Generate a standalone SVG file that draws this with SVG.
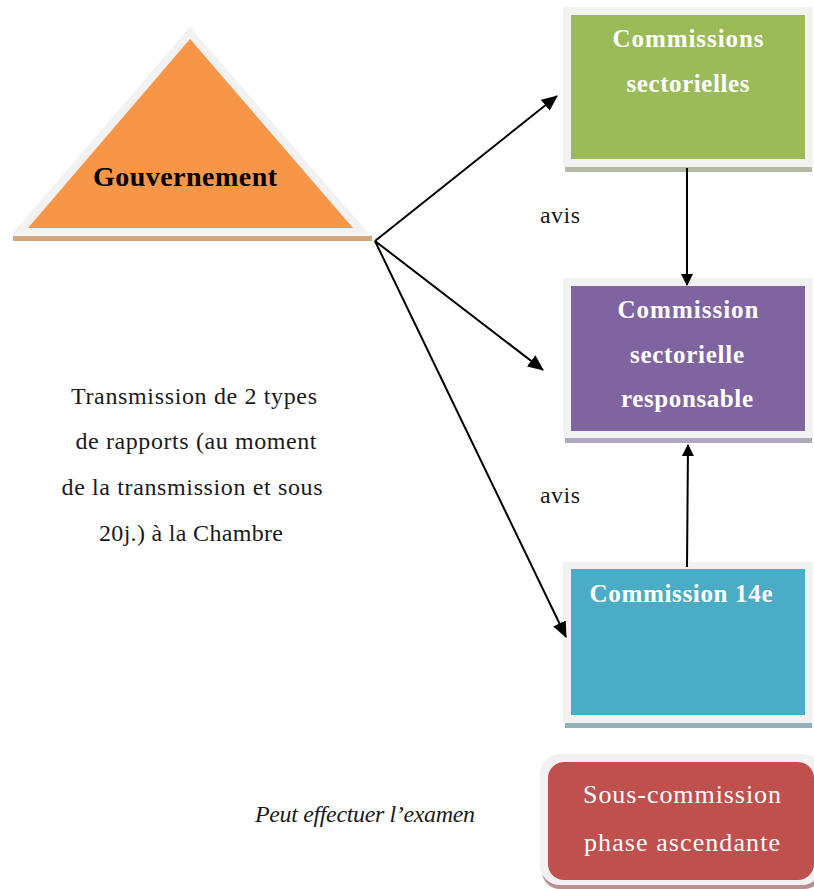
<svg xmlns="http://www.w3.org/2000/svg" width="814" height="889" viewBox="0 0 814 889">
<defs>
<style>
.w{fill:#ffffff;font-weight:bold;font-size:25px;text-anchor:middle;}
.b{fill:#1a1a1a;font-size:24px;text-anchor:middle;}
.frame{fill:#f2f2f2;}
.con{stroke:#000;stroke-width:2;fill:none;}
</style>
<marker id="ah" viewBox="0 0 12 12" refX="11" refY="6" markerWidth="12" markerHeight="12" markerUnits="userSpaceOnUse" orient="auto">
<path d="M0,0 L12,6 L0,12 Z" fill="#000"/>
</marker>
<marker id="ahb" viewBox="0 0 16 14" refX="15" refY="7" markerWidth="16" markerHeight="14" markerUnits="userSpaceOnUse" orient="auto">
<path d="M0,0 L16,7 L0,14 Z" fill="#000"/>
</marker>
</defs>
<rect width="814" height="889" fill="#ffffff"/>

<g font-family="Liberation Serif">
<g id="gouvernement">
<rect x="13" y="236" width="359" height="5" fill="#d2a57f"/>
<polygon points="190,27 370,235 11,235" class="frame"/>
<polygon points="190,39 353,228 28,228" fill="#f79646"/>
<text font-family="Liberation Serif" x="185" y="186" font-size="28" font-weight="bold" text-anchor="middle" fill="#000" textLength="184" lengthAdjust="spacing">Gouvernement</text>
</g>

<g id="commissions-sectorielles">
<rect x="565" y="167" width="247" height="5" fill="#b4bca6"/>
<rect x="563" y="7" width="250" height="160" class="frame"/>
<rect x="571" y="15" width="234" height="144" fill="#9bbb59"/>
<text font-family="Liberation Serif" class="w" x="688" y="47" textLength="151" lengthAdjust="spacing">Commissions</text>
<text font-family="Liberation Serif" class="w" x="688" y="92" textLength="123" lengthAdjust="spacing">sectorielles</text>
</g>

<g id="commission-responsable">
<rect x="565" y="438" width="247" height="5" fill="#b0a8bc"/>
<rect x="563" y="278" width="250" height="160" class="frame"/>
<rect x="571" y="286" width="234" height="145" fill="#8064a2"/>
<text font-family="Liberation Serif" class="w" x="688" y="318" textLength="141" lengthAdjust="spacing">Commission</text>
<text font-family="Liberation Serif" class="w" x="687" y="363" textLength="114" lengthAdjust="spacing">sectorielle</text>
<text font-family="Liberation Serif" class="w" x="687" y="407" textLength="132" lengthAdjust="spacing">responsable</text>
</g>

<g id="commission-14e">
<rect x="565" y="723" width="247" height="5" fill="#90b0bc"/>
<rect x="563" y="562" width="250" height="161" class="frame"/>
<rect x="571" y="569" width="234" height="146" fill="#4bacc6"/>
<text font-family="Liberation Serif" class="w" x="681" y="602" textLength="183" lengthAdjust="spacing">Commission 14e</text>
</g>

<g id="sous-commission">
<rect x="542" y="760" width="280" height="129" rx="18" fill="#b89090"/>
<rect x="540" y="754" width="282" height="131" rx="20" class="frame"/>
<rect x="548" y="762" width="266" height="118" rx="16" fill="#c0504d"/>
<text font-family="Liberation Serif" x="682" y="803" font-size="26" fill="#ffffff" text-anchor="middle" textLength="198" lengthAdjust="spacing">Sous-commission</text>
<text font-family="Liberation Serif" x="682" y="851" font-size="26" fill="#ffffff" text-anchor="middle" textLength="196" lengthAdjust="spacing">phase ascendante</text>
</g>

<g id="labels">
<text font-family="Liberation Serif" class="b" x="194" y="404" textLength="246" lengthAdjust="spacing">Transmission de 2 types</text>
<text font-family="Liberation Serif" class="b" x="196" y="449" textLength="241" lengthAdjust="spacing">de rapports (au moment</text>
<text font-family="Liberation Serif" class="b" x="192" y="495" textLength="261" lengthAdjust="spacing">de la transmission et sous</text>
<text font-family="Liberation Serif" class="b" x="191" y="541" textLength="184" lengthAdjust="spacing">20j.) à la Chambre</text>
<text font-family="Liberation Serif" x="540" y="223" font-size="24" fill="#1a1a1a" textLength="40" lengthAdjust="spacing">avis</text>
<text font-family="Liberation Serif" x="540" y="503" font-size="24" fill="#1a1a1a" textLength="40" lengthAdjust="spacing">avis</text>
<text font-family="Liberation Serif" x="255" y="822" font-size="24" font-style="italic" fill="#1a1a1a" textLength="220" lengthAdjust="spacing">Peut effectuer l’examen</text>
</g>
</g>

<g id="connectors">
<line class="con" x1="375" y1="241" x2="557" y2="96" marker-end="url(#ahb)"/>
<line class="con" x1="375" y1="241" x2="543" y2="370" marker-end="url(#ahb)"/>
<line class="con" x1="375" y1="241" x2="566" y2="637" marker-end="url(#ahb)"/>
<line class="con" x1="687" y1="168" x2="687" y2="285" marker-end="url(#ah)"/>
<line class="con" x1="687" y1="567" x2="688" y2="445" marker-end="url(#ah)"/>
</g>
</svg>
